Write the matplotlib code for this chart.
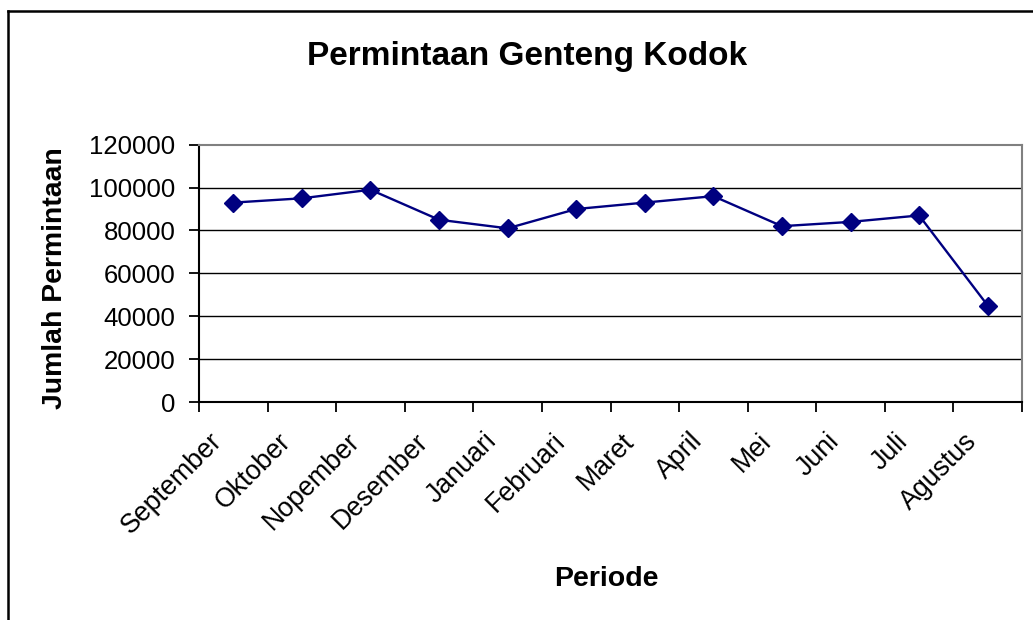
import matplotlib
matplotlib.use("Agg")
import matplotlib.pyplot as plt
import matplotlib.transforms as mtransforms
from matplotlib.lines import Line2D
import numpy as np

months = ["September", "Oktober", "Nopember", "Desember", "Januari", "Februari",
          "Maret", "April", "Mei", "Juni", "Juli", "Agustus"]
demand = [93000, 95000, 99000, 85000, 81000, 90000,
          93000, 96000, 82000, 84000, 87000, 45000]
yticks = [0, 20000, 40000, 60000, 80000, 100000, 120000]

plt.rcParams['font.family'] = ['Liberation Sans', 'DejaVu Sans']

W, H = 1033, 620
fig = plt.figure(figsize=(W / 100, H / 100), dpi=100)
fig.patch.set_facecolor('white')

# outer chart border (left and top visible, rest off-canvas)
fig.add_artist(Line2D([8 / W, 8 / W], [0, 1 - 11 / H], transform=fig.transFigure,
                      color='black', lw=1.8))
fig.add_artist(Line2D([8 / W, 1.0], [1 - 11 / H, 1 - 11 / H], transform=fig.transFigure,
                      color='black', lw=1.8))

left, right, top, bottom = 199, 1022, 144.7, 402
ax = fig.add_axes([left / W, 1 - bottom / H, (right - left) / W, (bottom - top) / H])

x = np.arange(len(months))
ax.plot(x, demand, color='#000080', lw=1.7, marker='D', markersize=9,
        markerfacecolor='#000080', markeredgecolor='#000080', zorder=3)

ax.set_xlim(-0.5, len(months) - 0.5)
ax.set_ylim(0, 120000)
ax.set_yticks(yticks)
ax.set_yticklabels([str(v) for v in yticks], fontsize=18.5)
for v in yticks[1:-1]:
    ax.axhline(v, color='black', lw=1.0, zorder=1)

ax.set_xticks(x)
ax.set_xticklabels(months, fontsize=19.3, rotation=45, ha='right', va='top',
                   rotation_mode='anchor')
ax.set_xticks(np.arange(len(months) + 1) - 0.5, minor=True)
ax.tick_params(axis='x', which='major', length=0, pad=8)
ax.tick_params(axis='x', which='minor', length=7, width=1.3, direction='out', color='black')
ax.tick_params(axis='y', length=7, width=1.3, direction='out', pad=10)

offset = mtransforms.ScaledTranslation(-0.24, -0.15, fig.dpi_scale_trans)
for lbl in ax.get_xticklabels():
    lbl.set_transform(lbl.get_transform() + offset)

for s in ['left', 'bottom']:
    ax.spines[s].set_color('black')
    ax.spines[s].set_linewidth(1.5)
for s in ['top', 'right']:
    ax.spines[s].set_color('#808080')
    ax.spines[s].set_linewidth(1.5)

fig.text(527 / W, 1 - 57 / H, "Permintaan Genteng Kodok", fontsize=24, fontweight='bold',
         ha='center', va='center')
fig.text(55 / W, 1 - 278 / H, "Jumlah Permintaan", fontsize=20.4, fontweight='bold',
         ha='center', va='center', rotation=90)
fig.text(606 / W, 1 - 579 / H, "Periode", fontsize=20.5, fontweight='bold',
         ha='center', va='center')

fig.savefig("out.png", dpi=100, facecolor='white')
